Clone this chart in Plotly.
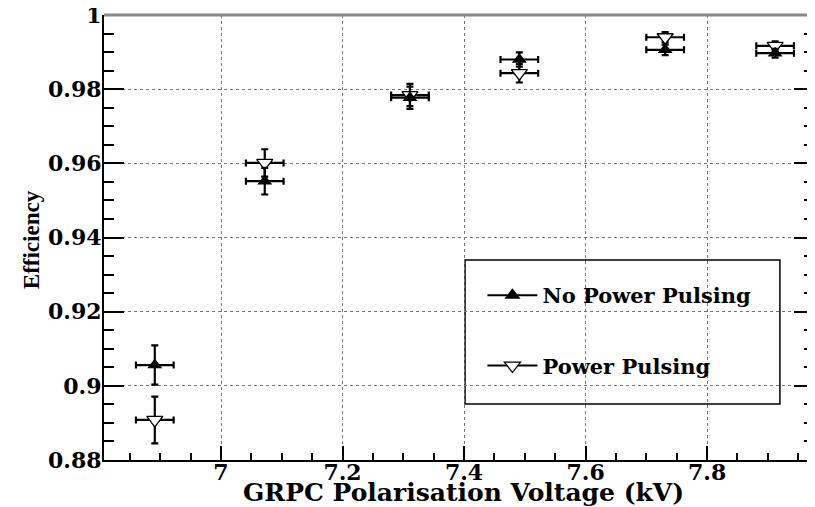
import plotly.graph_objects as go

# Data
voltage = [6.891, 7.072, 7.311, 7.491, 7.731, 7.912]
voltage_err = [0.031, 0.031, 0.031, 0.031, 0.031, 0.031]
eff_no_pp = [0.9056, 0.9552, 0.9777, 0.9880, 0.9906, 0.9897]
err_no_pp = [0.0053, 0.0036, 0.0030, 0.0019, 0.0014, 0.0012]
eff_pp = [0.8908, 0.9601, 0.9784, 0.9843, 0.9940, 0.9917]
err_pp = [0.0063, 0.0037, 0.0030, 0.0025, 0.0014, 0.0012]
names = ["No Power Pulsing", "Power Pulsing"]
x_title = "GRPC Polarisation Voltage (kV)"
y_title = "Efficiency"

TICK_FONT = dict(family="DejaVu Serif", size=22, color="black", weight="bold")

fig = go.Figure()

err_style = dict(type="data", color="black", thickness=2.2, width=3.5)

# Power pulsing (open down-triangles)
fig.add_trace(go.Scatter(
    x=voltage, y=eff_pp, mode="markers", showlegend=False,
    marker=dict(symbol="triangle-down", size=14, color="white",
                line=dict(color="black", width=1.3)),
    error_y=dict(array=err_pp, **err_style),
    error_x=dict(array=voltage_err, **err_style),
))
# No power pulsing (filled up-triangles)
fig.add_trace(go.Scatter(
    x=voltage, y=eff_no_pp, mode="markers", showlegend=False,
    marker=dict(symbol="triangle-up", size=13, color="black",
                line=dict(color="black", width=0)),
    error_y=dict(array=err_no_pp, **err_style),
    error_x=dict(array=voltage_err, **err_style),
))

# Legend entries
fig.add_trace(go.Scatter(
    x=[None], y=[None], mode="lines+markers", name=names[0], legendgroup="a",
    line=dict(color="black", width=2),
    marker=dict(symbol="triangle-up", size=14, color="black"),
))
fig.add_trace(go.Scatter(
    x=[None], y=[None], mode="lines+markers", name=names[1], legendgroup="b",
    line=dict(color="black", width=2),
    marker=dict(symbol="triangle-down", size=14, color="white",
                line=dict(color="black", width=1.3)),
))

axis_common = dict(
    showline=True, linecolor="black", linewidth=2, automargin=False,
    ticks="inside", tickcolor="black", tickwidth=1.5,
    showgrid=True, gridcolor="#777", griddash="dot", gridwidth=1,
    zeroline=False, tickfont=TICK_FONT, ticklabeloverflow="allow",
)

fig.update_xaxes(
    range=[6.8074, 7.976], tick0=7.0, dtick=0.2, ticklen=14,
    ticklabelstandoff=-8,
    minor=dict(dtick=0.05, ticks="inside", ticklen=7, tickcolor="black", tickwidth=1.5, showgrid=False),
    **axis_common,
)
fig.update_yaxes(
    range=[0.88, 1.0], tick0=0.88, dtick=0.02, ticklen=20, mirror="ticks",
    tickformat="~g", ticklabelstandoff=-4,
    minor=dict(dtick=0.005, ticks="inside", ticklen=10, tickcolor="black", tickwidth=1.5, showgrid=False),
    **axis_common,
)

# Axis titles
fig.add_annotation(text=x_title, xref="paper", yref="paper", x=0.506, y=-0.0735,
                   showarrow=False, xanchor="center", yanchor="middle",
                   font=dict(family="DejaVu Serif", size=25, color="black", weight="bold"))
fig.add_annotation(text=y_title, xref="paper", yref="paper", x=-0.1028, y=0.494,
                   showarrow=False, xanchor="center", yanchor="middle", textangle=-90,
                   font=dict(family="Liberation Serif", size=23, color="black", weight="bold"))

# Top frame line and legend box
fig.add_shape(type="line", xref="paper", yref="paper", x0=0, x1=1, y0=1, y1=1,
              line=dict(color="#888", width=3))
fig.add_shape(type="rect", xref="paper", yref="paper",
              x0=0.5085, x1=0.952, y0=0.1258, y1=0.4494,
              line=dict(color="black", width=1.5), fillcolor="white", layer="below")

# The page body has an 8px default margin; size the figure to compensate.
fig.update_layout(
    width=807, height=499,
    margin=dict(l=96, r=1, t=7, b=47),
    plot_bgcolor="rgba(0,0,0,0)", paper_bgcolor="white",
    legend=dict(
        x=0.533, y=0.4155, xanchor="left", yanchor="top",
        bgcolor="rgba(0,0,0,0)", borderwidth=0,
        font=dict(family="DejaVu Serif", size=21, color="black", weight="bold"),
        tracegroupgap=40, itemwidth=50,
    ),
)

fig.write_html("out.html")
